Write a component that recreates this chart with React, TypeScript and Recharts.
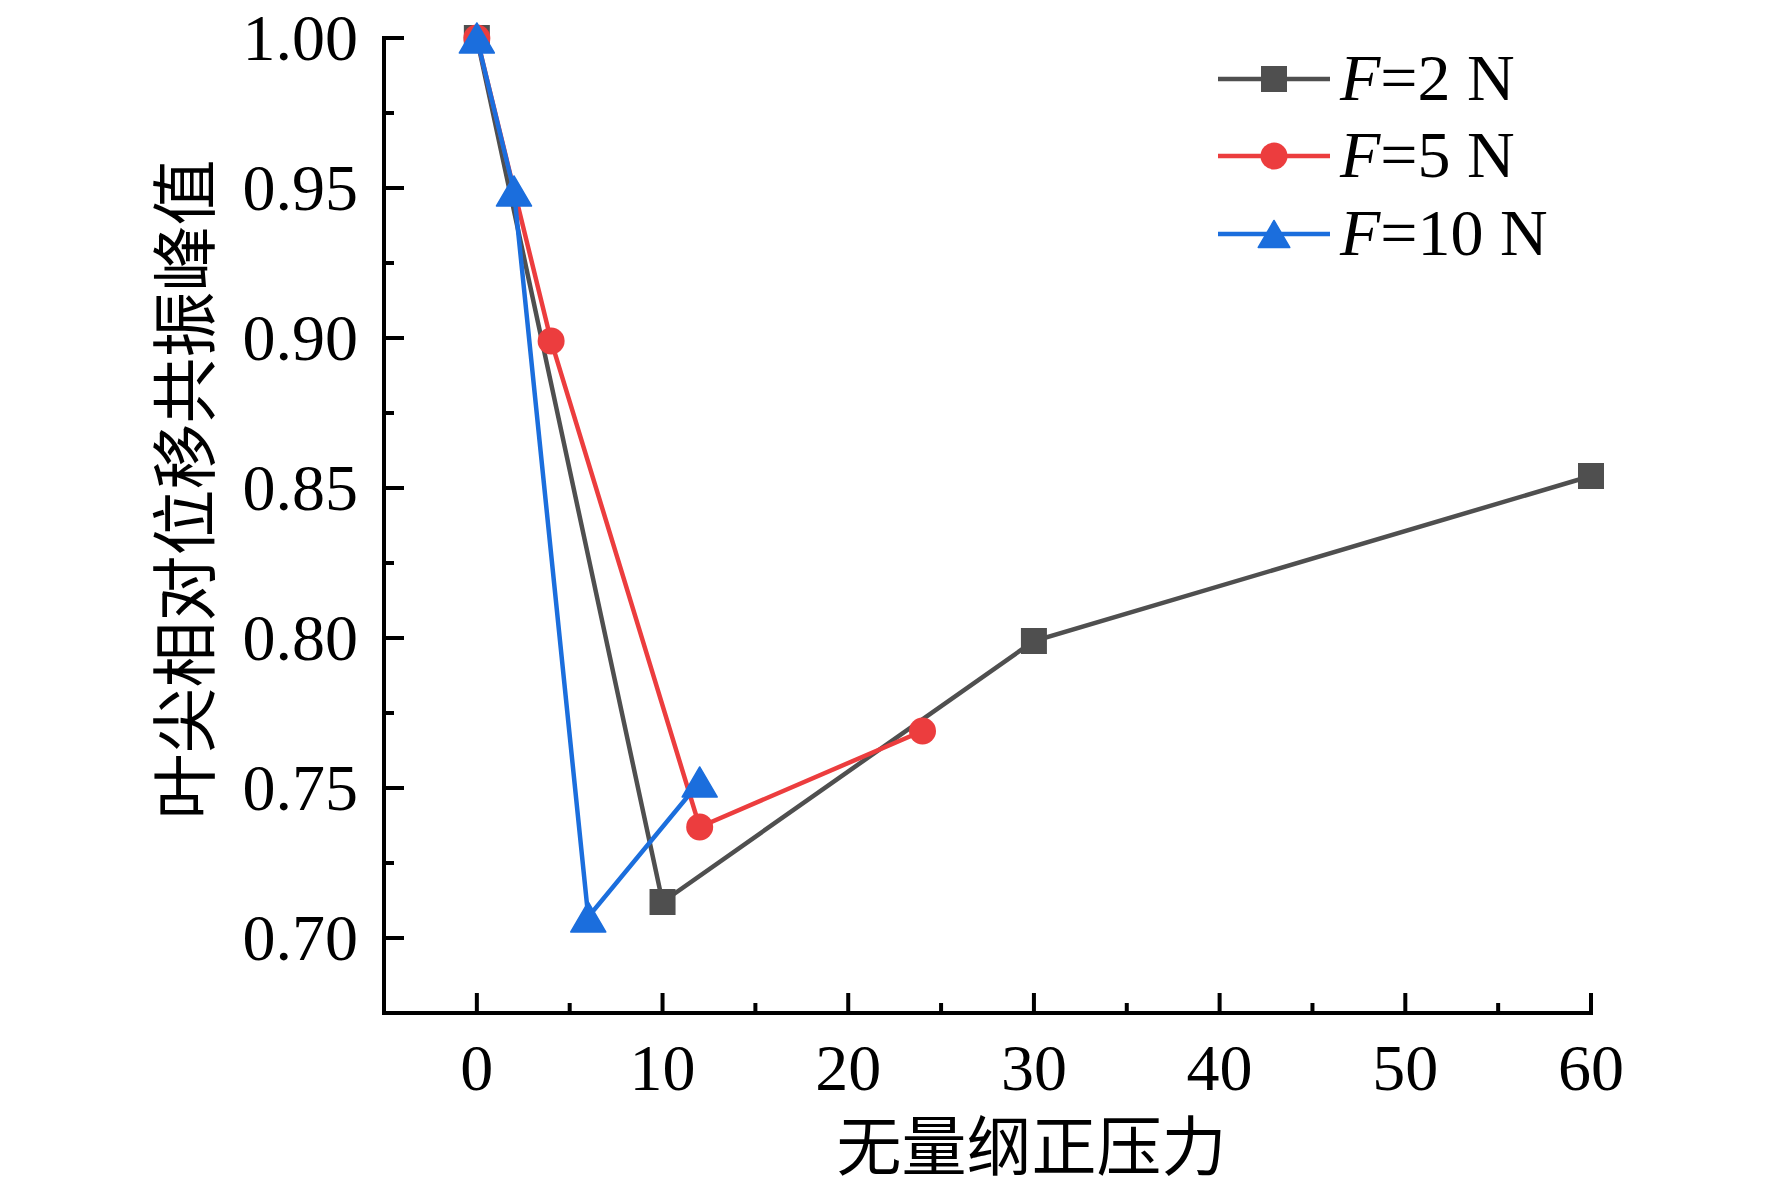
import React from "react";
import { LineChart, Line, XAxis, YAxis, Legend } from "recharts";

// ---- data ----
const f2X = [0, 10, 30, 60];
const f2Y = [1.0, 0.712, 0.799, 0.854];
const f5X = [0, 4, 12, 24];
const f5Y = [1.0, 0.899, 0.737, 0.769];
const f10X = [0, 2, 6, 12];
const f10Y = [1.0, 0.949, 0.707, 0.752];

const seriesNames = ["2 N", "5 N", "10 N"];
const xTicks = [0, 5, 10, 15, 20, 25, 30, 35, 40, 45, 50, 55, 60];
const yTicks = [0.7, 0.725, 0.75, 0.775, 0.8, 0.825, 0.85, 0.875, 0.9, 0.925, 0.95, 0.975, 1.0];
const xTitle = "无量纲正压力";
const yTitle = "叶尖相对位移共振峰值";

const GRAY = "#4f4f4f";
const RED = "#ec3d3e";
const BLUE = "#1b6edd";
const SERIF = "'Liberation Serif', 'Times New Roman', serif";
const CJK = "'Noto Sans CJK SC', sans-serif";

const toRows = (xs: number[], ys: number[]) => xs.map((x, i) => ({ x, y: ys[i] }));
const data2 = toRows(f2X, f2Y);
const data5 = toRows(f5X, f5Y);
const data10 = toRows(f10X, f10Y);

type Shape = "square" | "circle" | "triangle";

const MarkerShape = ({ shape, cx, cy, color, scale = 1 }: { shape: Shape; cx: number; cy: number; color: string; scale?: number }) => {
  if (shape === "square") {
    const s = 26 * scale;
    return <rect x={cx - s / 2} y={cy - s / 2} width={s} height={s} fill={color} />;
  }
  if (shape === "circle") {
    return <circle cx={cx} cy={cy} r={13.5 * scale} fill={color} />;
  }
  const w = 35 * scale;
  const h = 30 * scale;
  return (
    <polygon
      points={`${cx},${cy - h / 2} ${cx + w / 2},${cy + h / 2} ${cx - w / 2},${cy + h / 2}`}
      fill={color}
      stroke={color}
      strokeWidth={1.5}
      strokeLinejoin="round"
    />
  );
};

const makeDot = (shape: Shape, color: string) => (props: any) => {
  const { cx, cy, index } = props;
  if (cx == null || cy == null) return <g key={`e-${shape}-${index}`} />;
  return (
    <g key={`d-${shape}-${index}`}>
      <MarkerShape shape={shape} cx={cx} cy={cy} color={color} />
    </g>
  );
};

const XTick = (props: any) => {
  const { x, y, payload } = props;
  const v = payload.value;
  const major = Math.round(v) % 10 === 0;
  return (
    <g>
      <line x1={x} x2={x} y1={y} y2={y - (major ? 20 : 10)} stroke="#000" strokeWidth={4} />
      {major && (
        <text x={x} y={y + 77} textAnchor="middle" fontFamily={SERIF} fontSize={66} fill="#000">
          {v}
        </text>
      )}
    </g>
  );
};

const YTick = (props: any) => {
  const { x, y, payload } = props;
  const v = payload.value;
  const major = Math.round(v * 1000) % 50 === 0;
  return (
    <g>
      <line x1={x} x2={x + (major ? 20 : 10)} y1={y} y2={y} stroke="#000" strokeWidth={4} />
      {major && (
        <text x={x - 26} y={y + 22} textAnchor="end" fontFamily={SERIF} fontSize={66} fill="#000">
          {v.toFixed(2)}
        </text>
      )}
    </g>
  );
};

const YTitle = (props: any) => {
  const vb = props.viewBox || {};
  const cx = vb.x - 104;
  const cy = vb.y + vb.height / 2 - 36;
  return (
    <text
      x={cx}
      y={cy}
      transform={`rotate(-90, ${cx}, ${cy})`}
      textAnchor="middle"
      dominantBaseline="central"
      fontFamily={CJK}
      fontSize={66}
      fill="#000"
    >
      {yTitle}
    </text>
  );
};

const XTitle = (props: any) => {
  const vb = props.viewBox || {};
  const cx = vb.x + vb.width / 2 + 44;
  const baseline = vb.y + 157;
  return (
    <text x={cx} y={baseline} textAnchor="middle" fontFamily={CJK} fontSize={65} fill="#000">
      {xTitle}
    </text>
  );
};

const shapes: Shape[] = ["square", "circle", "triangle"];
const colors = [GRAY, RED, BLUE];

const LegendContent = (props: any) => {
  const payload = props.payload || [];
  const rowsY = [49, 126, 204];
  return (
    <svg width={420} height={250} style={{ display: "block" }}>
      {payload.map((entry: any, k: number) => {
        const found = seriesNames.indexOf(String(entry.value));
        const i = found >= 0 ? found : k;
        const yy = rowsY[i];
        const color = entry.color || colors[i];
        const label = seriesNames[i];
        return (
          <g key={`lg-${i}`}>
            <line x1={8} x2={120} y1={yy} y2={yy} stroke={color} strokeWidth={4.5} />
            <MarkerShape shape={shapes[i]} cx={64} cy={yy} color={color} scale={i === 2 ? 0.9 : 1} />
            <text x={130} y={yy + 21} fontFamily={SERIF} fontSize={66} fill="#000">
              <tspan fontStyle="italic">F</tspan>
              <tspan>{"=" + label}</tspan>
            </text>
          </g>
        );
      })}
    </svg>
  );
};

export default function App() {
  return (
    <div style={{ position: "absolute", left: 0, top: 0, width: 1772, height: 1189, background: "#fff" }}>
      <LineChart width={1772} height={1189} margin={{ top: 38, right: 181, left: 284, bottom: 76 }}>
        <XAxis
          type="number"
          dataKey="x"
          domain={[-5, 60]}
          ticks={xTicks}
          interval={0}
          height={100}
          tickSize={0}
          tickMargin={0}
          tick={<XTick />}
          axisLine={{ stroke: "#000", strokeWidth: 4, strokeLinecap: "square" }}
          label={<XTitle />}
        />
        <YAxis
          type="number"
          domain={[0.675, 1.0]}
          ticks={yTicks}
          interval={0}
          width={100}
          tickSize={0}
          tickMargin={0}
          tick={<YTick />}
          axisLine={{ stroke: "#000", strokeWidth: 4, strokeLinecap: "square" }}
          label={<YTitle />}
        />
        <Legend
          layout="vertical"
          align="center"
          verticalAlign="middle"
          content={<LegendContent />}
          wrapperStyle={{ left: 1210, top: 30, width: 420, height: 250 }}
        />
        <Line
          data={data2}
          dataKey="y"
          name={seriesNames[0]}
          stroke={GRAY}
          strokeWidth={4.5}
          dot={makeDot("square", GRAY)}
          activeDot={false}
          isAnimationActive={false}
        />
        <Line
          data={data5}
          dataKey="y"
          name={seriesNames[1]}
          stroke={RED}
          strokeWidth={4.5}
          dot={makeDot("circle", RED)}
          activeDot={false}
          isAnimationActive={false}
        />
        <Line
          data={data10}
          dataKey="y"
          name={seriesNames[2]}
          stroke={BLUE}
          strokeWidth={4.5}
          dot={makeDot("triangle", BLUE)}
          activeDot={false}
          isAnimationActive={false}
        />
      </LineChart>
    </div>
  );
}
